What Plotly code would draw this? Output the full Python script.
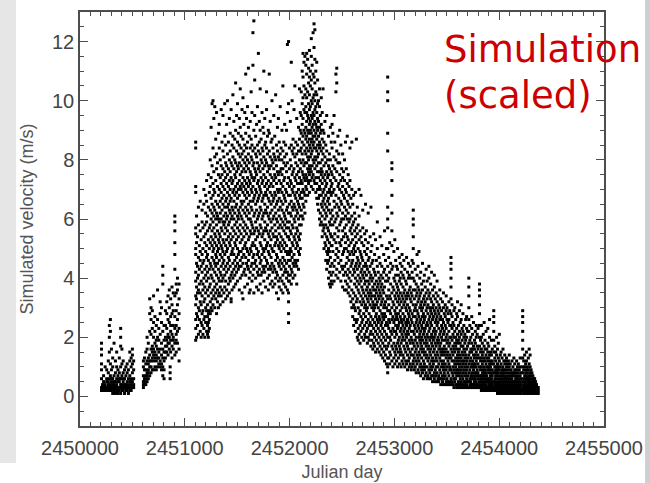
import plotly.graph_objects as go

JD0 = 2450000

early_day = [205, 215, 225, 240, 255, 270, 280, 290, 300, 312, 325, 338, 350, 362, 375, 388, 400, 412,
             425, 438, 450, 462, 475, 488, 500, 512,
             605, 615, 628, 640, 652, 665, 678, 690, 702, 715, 728, 740, 752, 765, 778, 790, 802, 815,
             828, 840, 852, 860, 865, 878, 890, 905, 918, 930, 945]
early_vel = [
    [0.2, 0.3, 0.6, 0.9, 1.1, 1.4, 1.6, 1.8], [0.2, 0.4, 0.3], [0.3, 0.5, 0.2, 0.7], [0.2, 0.4, 1.0, 0.3],
    [0.3, 0.2, 0.6, 0.5, 0.9], [0.2, 0.5, 0.8, 1.2, 0.4], [0.3, 0.6, 1.5, 2.0, 2.4, 0.2],
    [0.2, 0.4, 0.7, 1.1, 2.2, 2.6, 0.3], [0.2, 0.3, 0.5, 0.9, 1.6, 0.6], [0.1, 0.3, 0.6, 1.0, 1.3, 0.4],
    [0.2, 0.4, 0.25, 0.7, 1.8, 0.5], [0.1, 0.3, 0.5, 0.8, 1.2, 0.35], [0.2, 0.4, 0.6, 1.0, 0.15, 1.5],
    [0.1, 0.3, 0.7, 0.9, 0.5], [0.2, 0.5, 0.3, 0.8, 1.3, 0.6], [0.1, 0.3, 0.6, 1.0, 1.7, 2.0, 2.3, 0.4],
    [0.2, 0.4, 0.7, 1.1, 1.6, 0.3], [0.2, 0.3, 0.5, 0.8, 1.2, 0.6], [0.1, 0.3, 0.6, 0.9, 0.4],
    [0.2, 0.4, 0.7, 1.0, 0.3], [0.2, 0.5, 0.8, 0.3, 1.1], [0.1, 0.4, 0.6, 0.9, 0.3],
    [0.2, 0.3, 0.5, 0.7, 1.2, 1.5], [0.2, 0.4, 0.6, 1.0, 1.3, 0.5], [0.3, 0.5, 0.8, 1.1, 1.4, 1.6],
    [0.3, 0.6, 0.9, 1.2, 0.4],
    [0.3, 0.5, 0.7, 1.0, 1.2, 0.4], [0.4, 0.6, 0.9, 1.3, 0.5], [0.4, 0.7, 1.1, 1.5, 0.6, 0.9],
    [0.5, 0.8, 1.2, 1.6, 2.0, 0.7], [0.6, 0.9, 1.3, 1.8, 1.1, 0.8], [0.7, 1.0, 1.4, 2.2, 2.8, 3.3, 1.2],
    [0.8, 1.2, 1.6, 2.1, 2.6, 3.0, 1.0], [0.9, 1.3, 1.7, 2.3, 2.9, 1.5], [0.9, 1.2, 1.6, 2.0, 2.5, 1.4, 3.4],
    [1.0, 1.3, 1.8, 2.2, 2.7, 1.5], [0.9, 1.4, 1.9, 2.4, 1.2, 1.7], [1.0, 1.3, 1.6, 2.0, 2.6, 3.6],
    [1.1, 1.5, 1.9, 2.3, 1.3], [1.0, 1.2, 1.6, 2.1, 2.8, 3.2], [0.9, 1.4, 1.8, 2.5, 3.0, 1.1],
    [0.7, 1.0, 1.3, 1.6, 2.2, 3.8, 4.1, 4.4], [0.6, 0.9, 1.2, 1.5, 1.9, 2.4], [1.3, 1.7, 2.0, 2.4, 2.9, 1.5],
    [1.5, 1.9, 2.3, 2.8, 3.2, 1.7], [1.4, 1.8, 2.1, 2.6, 3.4, 2.0], [1.6, 2.0, 2.5, 3.0, 3.6, 1.8],
    [0.6, 0.8, 1.0], [1.5, 1.9, 2.2, 2.7, 3.3, 2.4], [1.3, 1.7, 2.1, 2.8, 3.1, 3.7],
    [1.6, 2.0, 2.4, 2.9, 3.5, 1.9], [1.4, 1.8, 2.3, 3.4, 4.3, 4.8, 5.2, 5.6, 5.9, 6.1, 2.7],
    [1.5, 1.9, 2.4, 2.9, 3.5, 3.8, 2.1], [1.8, 2.2, 2.6, 3.1, 3.6, 4.0], [1.2, 1.6, 2.3, 2.8, 3.3, 3.8],
]

cloud_day = [1104, 1112, 1121, 1130, 1139, 1147, 1156, 1165, 1173, 1182, 1191, 1199, 1208, 1217, 1225,
             1234, 1243, 1251, 1260, 1269, 1277, 1286, 1295, 1303, 1312, 1321, 1329, 1338, 1347, 1355,
             1364, 1373, 1381, 1390, 1399, 1407, 1416, 1425, 1433, 1442, 1451, 1459, 1468, 1477, 1485,
             1494, 1503, 1511, 1520, 1529, 1537, 1546, 1555, 1563, 1572, 1581, 1589, 1598, 1607, 1615,
             1624, 1633, 1641, 1650, 1659, 1667, 1676, 1685, 1693, 1702, 1711, 1719, 1728, 1737, 1745,
             1754, 1763, 1771, 1780, 1789, 1797, 1806, 1815, 1823, 1832, 1841, 1849, 1858, 1867, 1875,
             1884, 1893, 1901, 1910, 1919, 1927, 1936, 1945, 1953, 1962, 1971, 1979, 1990, 1998, 2007,
             2016, 2024, 2033, 2042, 2050, 2059, 2068, 2076, 2085, 2094, 2102, 2111, 2120, 2128, 2137,
             2146]
cloud_vel = [
    [1.9, 2.3, 2.6, 3.1, 3.4, 3.9, 4.2, 4.8, 5.0, 5.5, 5.7, 6.9, 7.1, 8.4, 8.6],
    [2.0, 2.8, 3.3, 3.7, 4.5, 5.2, 6.1], [2.4, 2.7, 3.5, 4.0, 4.4, 5.4],
    [2.1, 3.0, 3.6, 4.1, 4.7, 5.8, 6.4], [2.6, 2.9, 3.8, 4.3, 5.1],
    [2.2, 3.2, 3.5, 4.6, 4.9, 5.6, 6.6], [2.0, 2.5, 3.1, 3.9, 4.4, 5.3],
    [2.4, 2.8, 3.4, 4.2, 4.8, 5.9, 6.3], [2.1, 2.9, 3.6, 3.8, 4.5, 5.0, 5.7],
    [2.3, 2.6, 3.2, 4.0, 4.6, 5.4, 6.5, 7.0], [2.0, 2.7, 3.3, 3.7, 4.3, 5.2, 5.8],
    [2.5, 3.0, 3.5, 4.1, 4.9, 5.5, 6.2, 6.8], [2.2, 2.9, 3.9, 4.4, 4.7, 5.1, 5.9, 6.6, 7.3],
    [2.1, 2.4, 2.7, 3.1, 3.6, 4.2, 4.8, 5.6, 6.1], [2.0, 2.2, 2.5, 2.8, 3.4, 4.0, 4.6, 5.3, 6.4, 7.5],
    [2.3, 2.6, 2.9, 3.7, 4.3, 5.0, 5.7, 6.9], [2.8, 3.2, 3.8, 4.5, 5.2, 5.8, 6.3, 7.1, 8.0],
    [3.0, 3.5, 4.1, 4.4, 5.4, 6.0, 6.7, 7.4, 9.1], [2.9, 3.3, 4.0, 4.7, 5.1, 5.6, 6.2, 6.5, 7.8, 9.9],
    [3.1, 3.6, 4.3, 4.9, 5.3, 5.9, 6.8, 7.2, 8.4, 10.0], [3.4, 3.9, 4.6, 5.0, 5.7, 6.1, 6.4, 7.0, 7.6, 9.4],
    [3.0, 3.7, 4.2, 4.5, 5.2, 5.5, 6.3, 6.9, 8.1, 9.8], [3.3, 3.5, 4.4, 4.8, 5.4, 6.0, 6.6, 7.3, 8.7],
    [2.8, 3.8, 4.1, 4.7, 5.1, 5.8, 6.2, 7.7, 8.2, 9.6], [3.2, 3.6, 4.5, 4.9, 5.6, 6.1, 6.5, 7.1, 7.9],
    [3.0, 3.4, 4.0, 4.3, 5.0, 5.3, 6.0, 6.8, 7.5, 8.9], [3.5, 3.9, 4.6, 5.2, 5.5, 5.9, 6.4, 7.0, 8.4, 9.2],
    [3.1, 3.7, 4.2, 4.8, 5.4, 6.2, 6.6, 7.4, 8.0], [3.4, 4.1, 4.4, 5.1, 5.7, 6.0, 6.9, 7.2, 7.8, 9.7],
    [3.6, 3.9, 4.7, 5.0, 5.6, 6.3, 6.7, 7.5, 8.6], [3.2, 4.0, 4.5, 4.9, 5.3, 5.9, 6.5, 7.1, 7.7, 8.3, 9.5],
    [3.5, 4.3, 4.6, 5.2, 5.8, 6.1, 6.8, 7.3, 8.1], [3.7, 4.1, 4.8, 5.5, 5.9, 6.4, 7.0, 7.6, 8.8, 9.9],
    [3.3, 3.9, 4.4, 5.1, 5.7, 6.2, 6.6, 7.4, 7.9, 8.5], [3.6, 4.2, 4.9, 5.3, 6.0, 6.7, 7.2, 7.8, 9.2],
    [3.4, 4.5, 5.0, 5.6, 6.1, 6.4, 6.9, 7.5, 8.2, 10.0], [3.8, 4.3, 4.7, 5.4, 5.8, 6.5, 7.1, 7.7, 8.6],
    [3.5, 4.0, 4.6, 5.2, 5.9, 6.3, 6.8, 7.3, 8.0, 9.4], [3.9, 4.4, 5.1, 5.5, 6.2, 6.6, 7.0, 7.6, 8.3, 8.9],
    [3.2, 3.3, 4.1, 4.8, 5.3, 6.0, 6.7, 7.4, 7.9, 9.7], [3.6, 4.2, 4.9, 5.7, 6.1, 6.4, 7.2, 7.8, 8.5],
    [4.0, 4.5, 5.0, 5.4, 6.3, 6.9, 7.3, 8.1, 8.8, 10.2], [3.7, 4.3, 4.8, 5.6, 6.0, 6.6, 7.0, 7.7, 8.4, 9.3],
    [4.1, 4.6, 5.2, 5.8, 6.2, 6.8, 7.5, 8.0, 8.7], [3.8, 4.4, 5.1, 5.5, 6.4, 7.1, 7.4, 7.9, 9.0, 10.6],
    [4.2, 4.7, 5.3, 5.9, 6.5, 6.9, 7.6, 8.3, 9.5], [3.9, 4.5, 5.0, 5.7, 6.1, 6.7, 7.2, 7.8, 8.6, 9.9],
    [4.3, 4.8, 5.4, 6.0, 6.3, 7.0, 7.7, 8.2, 8.9], [3.6, 4.4, 4.9, 5.6, 6.2, 6.8, 7.3, 7.9, 8.5, 9.4],
    [4.0, 4.6, 5.2, 5.8, 6.4, 7.1, 7.5, 8.1, 9.1, 10.4], [4.4, 4.9, 5.5, 6.1, 6.6, 7.0, 7.8, 8.4, 8.8],
    [3.5, 4.1, 4.7, 5.3, 6.0, 6.5, 7.2, 7.6, 8.2, 9.7], [3.3, 4.5, 5.0, 5.7, 6.3, 6.9, 7.4, 8.0, 8.7, 10.1],
    [4.2, 4.8, 5.4, 5.9, 6.6, 7.1, 7.7, 8.3, 9.2], [3.7, 4.3, 5.1, 5.6, 6.2, 6.8, 7.3, 7.9, 8.5, 9.6],
    [4.1, 4.7, 5.2, 5.8, 6.4, 7.0, 7.6, 8.1, 8.9, 10.9], [4.5, 5.0, 5.5, 6.1, 6.7, 7.2, 7.8, 8.4, 9.4],
    [3.8, 4.4, 4.9, 5.7, 6.3, 6.9, 7.4, 8.0, 8.6, 9.8], [4.3, 4.6, 5.3, 6.0, 6.5, 7.1, 7.7, 8.2, 9.1, 11.1],
    [3.5, 4.0, 4.8, 5.4, 6.2, 6.8, 7.3, 7.9, 8.8], [3.6, 4.2, 5.0, 5.6, 6.0, 6.6, 7.2, 7.6, 8.4, 9.3],
    [4.4, 4.9, 5.5, 5.9, 6.4, 7.0, 7.5, 8.1, 8.7, 10.3], [3.9, 4.5, 5.1, 5.8, 6.3, 6.9, 7.4, 8.0, 8.5, 9.6],
    [4.1, 4.7, 5.2, 5.7, 6.6, 7.1, 7.8, 8.3, 11.2, 12.3], [3.5, 4.3, 4.8, 5.5, 6.1, 6.7, 7.3, 7.9, 9.0, 12.7],
    [4.5, 5.1, 5.6, 6.2, 6.8, 7.4, 7.7, 8.4, 9.5, 10.7], [4.0, 4.6, 5.3, 5.9, 6.5, 7.0, 7.6, 8.2, 8.8],
    [3.7, 4.4, 5.0, 5.7, 6.3, 6.9, 7.5, 8.1, 9.2], [4.2, 4.8, 5.4, 6.0, 6.6, 7.2, 7.9, 8.5, 9.8],
    [3.6, 4.1, 4.9, 5.6, 6.1, 6.7, 7.3, 7.7, 8.3, 11.6], [4.3, 4.7, 5.5, 6.2, 6.8, 7.1, 7.8, 8.6, 9.3],
    [3.8, 4.5, 5.2, 5.8, 6.4, 7.0, 7.6, 8.2, 9.0, 10.4], [4.1, 4.6, 5.1, 5.7, 6.3, 6.9, 7.4, 8.0, 8.7],
    [3.5, 4.2, 4.8, 5.4, 6.0, 6.6, 7.2, 7.9, 8.4, 9.6], [4.4, 5.0, 5.5, 6.1, 6.7, 7.3, 7.7, 8.3, 9.1],
    [3.9, 4.3, 4.9, 5.6, 6.2, 6.8, 7.5, 8.1, 8.9, 11.0], [4.2, 4.7, 5.3, 5.9, 6.5, 7.1, 7.8, 8.5, 9.4],
    [3.7, 4.4, 5.0, 5.7, 6.3, 6.9, 7.4, 8.0, 8.6], [4.6, 5.1, 5.6, 6.2, 6.8, 7.2, 7.9, 8.4, 9.7, 10.3],
    [4.0, 4.5, 5.2, 5.8, 6.4, 7.0, 7.6, 8.2, 8.8], [3.6, 4.3, 4.9, 5.5, 6.1, 6.7, 7.3, 7.8, 9.0],
    [4.1, 4.8, 5.4, 6.0, 6.6, 7.1, 7.7, 8.3, 8.9, 10.9], [3.8, 4.4, 5.1, 5.6, 6.2, 6.9, 7.5, 8.1, 9.3],
    [4.3, 4.7, 5.3, 5.9, 6.5, 7.2, 7.8, 8.6], [3.9, 4.5, 5.0, 5.7, 6.3, 6.8, 7.4, 8.0, 8.7, 10.0],
    [3.7, 4.2, 4.9, 5.5, 6.0, 6.6, 7.1, 7.9, 8.4], [4.4, 4.9, 5.4, 6.1, 6.7, 7.3, 7.7, 8.2, 9.5],
    [3.8, 4.3, 5.1, 5.8, 6.4, 6.9, 7.5, 8.1, 8.8], [4.0, 4.6, 5.2, 5.6, 6.2, 6.8, 7.4, 8.0, 10.2],
    [3.5, 4.2, 4.8, 5.4, 6.0, 6.5, 7.2, 7.8, 8.5], [4.1, 4.7, 5.3, 5.9, 6.6, 7.0, 7.6, 8.3, 9.1],
    [3.3, 3.9, 4.5, 5.1, 5.7, 6.3, 6.9, 7.5, 8.1, 9.4], [3.7, 4.4, 5.0, 5.5, 6.1, 6.7, 7.3, 8.0, 8.6],
    [4.0, 4.6, 5.2, 5.8, 6.4, 7.0, 7.6, 8.2, 9.8], [3.6, 4.3, 4.9, 5.4, 6.0, 6.6, 7.2, 7.7, 8.4],
    [3.9, 4.5, 5.1, 5.7, 6.3, 6.9, 7.5, 8.0, 9.0], [3.5, 4.1, 4.7, 5.3, 5.9, 6.5, 7.1, 7.7, 8.3, 10.5],
    [3.8, 4.4, 5.0, 5.6, 6.2, 6.8, 7.3, 7.9, 8.6], [4.2, 4.6, 5.2, 5.8, 6.1, 6.7, 7.4, 8.1, 9.2],
    [3.7, 4.3, 4.9, 5.5, 6.0, 6.6, 7.0, 7.8, 8.5], [4.0, 4.5, 5.1, 5.7, 6.3, 6.9, 7.6, 8.2, 9.0],
    [3.6, 4.2, 4.8, 5.4, 5.9, 6.4, 7.2, 7.9, 9.6, 11.9],
    [2.5, 2.8, 3.2, 3.5, 3.9, 4.1, 4.6, 4.9, 5.4, 5.7, 6.2, 6.8, 7.4, 9.9, 12.0],
    [3.9, 4.4, 4.8, 5.3, 5.9, 6.5, 7.1, 7.7, 8.4], [4.1, 4.6, 5.0, 5.6, 6.2, 6.8, 7.3, 8.0, 9.3],
    [3.8, 4.3, 4.9, 5.5, 6.1, 6.6, 7.2, 7.8, 8.5, 11.3], [4.2, 4.7, 5.2, 5.8, 6.4, 7.0, 7.5, 8.3, 10.0],
    [4.0, 4.5, 5.1, 5.7, 6.3, 6.9, 7.6, 8.2, 8.7], [4.4, 4.8, 5.4, 6.0, 6.5, 7.1, 7.7, 8.4, 9.7],
    [4.1, 4.6, 5.3, 5.9, 6.4, 6.8, 7.4, 8.1, 10.5], [4.5, 5.0, 5.5, 6.1, 6.7, 7.3, 7.9, 8.6],
    [3.8, 4.4, 5.2, 5.7, 6.3, 6.9, 7.5, 8.2, 9.4], [4.6, 5.1, 5.6, 6.2, 6.6, 7.2, 7.8, 8.5],
    [4.3, 4.9, 5.4, 6.0, 6.5, 7.0, 7.6, 8.3, 9.1], [4.8, 5.3, 5.8, 6.4, 6.8, 7.4, 8.0, 8.7, 10.4],
    [5.0, 5.5, 6.1, 6.7, 7.2, 7.7, 8.3, 9.0, 9.6], [5.8, 6.3, 6.9, 7.3, 7.9, 8.4, 8.9, 9.5, 10.3],
    [6.1, 6.7, 7.2, 7.6, 8.2, 8.6, 9.2, 9.9, 11.0], [6.0, 6.5, 7.0, 7.5, 8.0, 8.8, 9.4, 10.1, 10.8, 11.6],
    [6.4, 6.9, 7.4, 7.8, 8.5, 9.0, 9.7, 10.5, 11.3], [6.2, 6.8, 7.3, 7.9, 8.3, 8.9, 9.6, 10.2, 11.5],
]

peak_day = [2155, 2163, 2172, 2181, 2189, 2198, 2207, 2215, 2224, 2233, 2241, 2250, 2259, 2267, 2276,
            2285, 2293, 2302, 2311, 2319, 2328, 2337, 2345, 2354, 2363, 2371, 2380, 2389, 2397]
peak_vel = [
    [6.6, 7.1, 7.5, 8.2, 8.7, 9.1, 9.8, 10.4, 11.2], [7.0, 7.4, 7.9, 8.4, 8.8, 9.3, 9.6, 10.1, 10.9, 11.6],
    [6.8, 7.3, 7.7, 8.1, 8.6, 9.0, 9.5, 10.3, 11.4], [7.2, 7.6, 8.0, 8.3, 8.9, 9.4, 9.9, 10.6, 11.1],
    [6.9, 7.5, 7.8, 8.5, 8.7, 9.2, 9.7, 10.2, 10.8, 11.7], [7.3, 7.7, 8.1, 8.4, 9.0, 9.3, 9.8, 10.5, 11.0],
    [7.1, 7.6, 8.2, 8.6, 8.9, 9.5, 10.0, 10.7, 11.5, 12.1], [7.4, 7.8, 8.3, 8.7, 9.1, 9.4, 9.9, 10.4, 11.2],
    [7.0, 7.5, 8.0, 8.5, 8.8, 9.2, 9.6, 10.1, 10.9, 12.3], [7.3, 7.9, 8.4, 8.6, 9.0, 9.5, 10.2, 10.8, 11.8, 12.6],
    [7.2, 7.7, 8.1, 8.8, 9.3, 9.7, 10.0, 10.6, 11.4, 12.4], [6.9, 7.4, 8.0, 8.4, 8.9, 9.2, 9.8, 10.3, 11.0],
    [6.7, 7.2, 7.8, 8.3, 8.7, 9.1, 9.6, 10.2, 11.3], [6.5, 7.0, 7.6, 8.1, 8.5, 9.0, 9.4, 9.9, 10.7],
    [6.3, 6.7, 7.4, 7.9, 8.2, 8.8, 9.3, 10.0], [6.0, 6.8, 7.1, 7.6, 8.4, 8.6, 9.1, 9.8, 10.4],
    [5.8, 6.2, 7.0, 7.3, 7.9, 8.5, 8.9, 9.5], [5.9, 6.5, 6.8, 7.5, 7.7, 8.3, 9.0, 9.2, 10.1],
    [5.4, 6.1, 6.4, 7.2, 7.6, 8.0, 8.7, 9.6], [5.6, 5.8, 6.6, 6.9, 7.4, 8.2, 8.4, 9.0, 10.4],
    [5.0, 5.7, 6.3, 6.7, 7.0, 7.8, 8.6, 8.9], [5.2, 5.5, 6.0, 6.5, 7.3, 7.5, 8.1, 9.3],
    [4.6, 5.1, 5.8, 6.2, 6.8, 7.1, 7.9, 8.5], [4.3, 4.9, 5.4, 6.1, 6.4, 7.2, 7.6, 8.3, 9.5],
    [4.5, 4.8, 5.3, 5.7, 6.6, 6.9, 7.4, 8.0], [4.0, 4.6, 5.0, 5.6, 6.3, 6.7, 7.5, 7.8, 8.8],
    [3.8, 4.2, 4.9, 5.2, 5.9, 6.5, 7.0, 7.7, 8.2], [3.7, 4.4, 4.7, 5.5, 5.8, 6.2, 6.9, 7.3, 8.0, 9.1],
    [3.9, 4.1, 5.1, 5.4, 6.0, 6.8, 7.1, 7.6, 8.6],
]

decline_day = [2405, 2413, 2424, 2431, 2442, 2450, 2461, 2469, 2478, 2489, 2497, 2506, 2515, 2524, 2533,
               2541, 2550, 2559, 2567, 2576, 2585, 2594, 2602, 2611, 2620, 2628, 2637, 2646, 2654, 2663,
               2672, 2681, 2689, 2698, 2707, 2716, 2724, 2733, 2742, 2750, 2759, 2768, 2776, 2785, 2794,
               2802, 2811, 2820, 2828, 2837, 2846, 2854, 2863, 2872, 2880, 2889, 2898, 2906, 2915, 2924,
               2936, 2946, 2955, 2964, 2976, 2986, 2995, 3004, 3012, 3021, 3030, 3038, 3047, 3056, 3064,
               3073, 3082, 3090, 3099, 3108, 3116, 3125, 3134, 3142, 3151, 3160, 3169, 3180, 3190, 3199,
               3208, 3216, 3225, 3234, 3242, 3251, 3260, 3268, 3277, 3286, 3294, 3303, 3312, 3320, 3329,
               3338, 3346, 3355, 3364, 3372, 3381, 3390, 3398, 3407, 3416, 3424, 3433, 3442, 3450, 3459,
               3468, 3476, 3485, 3494, 3502, 3511, 3520, 3528, 3540, 3550, 3559, 3568, 3576, 3585, 3594,
               3602, 3611, 3620, 3628, 3637, 3646, 3654, 3663, 3672, 3680, 3689, 3698, 3710, 3720, 3729,
               3738, 3746, 3755, 3764, 3772, 3781, 3790, 3798, 3812, 3822, 3830, 3839, 3848, 3856, 3865,
               3874, 3882, 3891, 3900, 3908, 3917, 3926, 3934, 3948, 3958, 3966, 3975, 3984, 3992, 4001,
               4010, 4018, 4027, 4036, 4044, 4053, 4062, 4070, 4079, 4088, 4096, 4105, 4114, 4122, 4131,
               4140, 4148, 4157, 4166, 4174, 4183, 4192, 4200, 4210, 4224, 4234, 4243, 4252, 4260, 4269,
               4278, 4286, 4295, 4304, 4312, 4321, 4330, 4338, 4347, 4356, 4364, 4373]
decline_vel = [
    [3.8, 4.5, 5.1, 5.4, 6.3, 7.2, 7.5, 8.4, 9.2], [4.2, 4.9, 5.8, 6.1, 6.9, 7.8, 8.9],
    [3.9, 4.4, 5.3, 6.6, 7.0, 7.4, 8.1, 9.5], [4.6, 5.5, 5.9, 6.4, 7.7, 8.6],
    [4.1, 4.8, 5.2, 6.0, 6.8, 7.3, 8.0, 10.3, 10.9], [4.3, 5.0, 5.7, 6.2, 6.5, 7.6, 8.3, 10.6, 11.1],
    [4.0, 4.7, 5.4, 6.1, 7.1, 7.9, 8.8], [4.5, 4.9, 5.6, 6.4, 6.7, 7.2, 8.2],
    [4.2, 5.2, 5.8, 6.3, 7.0, 7.5, 7.9, 9.0], [3.9, 4.6, 5.1, 5.9, 6.6, 7.3, 8.5],
    [4.4, 5.3, 6.0, 6.5, 6.9, 7.7], [3.7, 4.3, 4.8, 5.6, 6.2, 7.1, 7.4, 8.2],
    [4.1, 4.9, 5.4, 6.0, 6.8, 7.6], [3.6, 4.4, 5.0, 5.7, 6.4, 6.7, 7.3, 8.0],
    [3.9, 4.2, 5.2, 5.5, 6.1, 7.0, 8.6], [3.6, 4.5, 5.0, 5.8, 6.3, 6.9, 7.7],
    [3.8, 4.1, 4.7, 5.4, 6.0, 6.6, 7.2, 8.8], [3.5, 4.3, 4.9, 5.3, 6.2, 6.5, 7.5],
    [3.7, 4.0, 4.6, 5.1, 5.9, 6.8, 7.1], [3.4, 4.2, 4.8, 5.6, 6.0, 6.4, 7.3, 8.4],
    [3.2, 3.9, 4.4, 5.2, 5.7, 6.7], [3.0, 3.6, 4.5, 4.9, 5.5, 6.1, 7.0, 8.6],
    [2.7, 3.3, 4.1, 4.6, 5.3, 5.8, 6.5], [2.4, 3.1, 3.5, 4.3, 4.8, 5.0, 5.9, 6.8],
    [2.6, 3.0, 3.8, 4.2, 5.1, 5.6, 6.2], [2.2, 2.9, 3.4, 4.0, 4.4, 4.9, 5.4, 6.0, 6.9],
    [2.5, 3.2, 3.7, 4.5, 5.2, 5.7, 8.7], [2.0, 2.6, 3.3, 3.9, 4.3, 4.7, 5.5, 6.4],
    [1.9, 2.3, 3.0, 3.6, 4.1, 4.6, 5.0, 5.8], [2.1, 2.8, 3.5, 3.8, 4.4, 5.3, 6.1, 7.0],
    [1.8, 2.4, 2.9, 3.2, 4.0, 4.5, 4.9, 5.6], [2.2, 2.7, 3.4, 3.9, 4.2, 4.8, 5.4, 6.8],
    [2.0, 2.5, 3.1, 3.7, 4.3, 4.7, 5.2], [2.3, 2.6, 3.3, 3.6, 4.1, 4.6, 5.7, 6.3],
    [1.9, 2.8, 3.2, 3.5, 4.0, 4.4, 5.1], [2.1, 2.4, 3.0, 3.8, 4.2, 4.9, 5.5],
    [2.0, 2.7, 3.1, 3.4, 3.9, 4.5, 5.3, 6.5], [2.2, 2.5, 2.9, 3.6, 4.1, 4.4, 4.8, 5.6],
    [1.8, 2.3, 3.0, 3.3, 3.7, 4.3, 5.0], [2.0, 2.6, 3.2, 3.5, 3.9, 4.6, 5.2, 6.2],
    [1.9, 2.4, 2.8, 3.4, 3.8, 4.2, 4.7], [2.1, 2.5, 3.1, 3.6, 4.0, 4.4, 5.4],
    [1.7, 2.2, 2.7, 3.3, 3.5, 4.1, 4.9, 6.4], [1.9, 2.4, 3.0, 3.4, 3.9, 4.5, 5.1],
    [1.6, 2.1, 2.6, 3.2, 3.7, 4.0, 4.6], [1.8, 2.3, 2.9, 3.1, 3.6, 4.3, 5.5],
    [1.7, 2.0, 2.5, 3.0, 3.4, 3.8, 4.2, 4.8], [1.5, 2.2, 2.7, 3.3, 3.6, 4.1, 5.3],
    [1.9, 2.4, 2.8, 3.1, 3.5, 3.9, 4.6], [1.6, 2.1, 2.6, 3.2, 3.7, 4.4, 5.0, 5.9],
    [1.8, 2.3, 2.5, 3.0, 3.4, 3.8, 4.2], [1.5, 2.0, 2.7, 3.3, 3.6, 4.0, 4.7],
    [1.7, 2.2, 2.6, 2.9, 3.5, 3.9, 4.5, 5.4], [1.4, 1.9, 2.4, 3.1, 3.4, 3.7, 4.1],
    [1.6, 2.1, 2.5, 2.8, 3.2, 3.8, 4.4, 5.1], [1.3, 1.8, 2.3, 2.7, 3.3, 3.6, 4.0],
    [1.5, 2.0, 2.6, 3.0, 3.5, 4.2, 4.8], [1.2, 1.7, 2.2, 2.8, 3.1, 3.7, 4.3, 5.6],
    [1.4, 1.9, 2.4, 2.7, 3.2, 3.9, 4.6], [1.1, 1.6, 2.1, 2.5, 3.0, 3.4, 4.1, 5.0],
    [0.8, 1.0, 1.3, 1.7, 2.0, 2.4, 2.9, 3.3, 3.9, 4.4, 5.0, 5.7, 6.0, 6.4, 8.3, 8.9, 10.0, 10.3, 10.8],
    [1.3, 1.8, 2.3, 2.6, 3.1, 3.6, 4.0, 4.7], [1.1, 1.5, 2.0, 2.5, 2.9, 3.4, 4.2, 5.2],
    [1.4, 1.9, 2.2, 2.8, 3.3, 3.8, 4.5],
    [1.2, 1.7, 2.1, 2.6, 3.0, 3.5, 4.3, 5.1, 5.6, 6.2, 6.8, 7.3, 7.7, 7.9],
    [1.0, 1.6, 2.3, 2.7, 3.2, 3.7, 4.4], [1.3, 1.8, 2.2, 2.5, 3.1, 3.6, 4.0, 4.9],
    [1.1, 1.5, 2.0, 2.6, 2.9, 3.4, 3.9, 5.3], [1.4, 1.7, 2.2, 2.4, 2.8, 3.3, 4.1, 4.6],
    [1.2, 1.6, 2.1, 2.7, 3.0, 3.5, 3.8, 4.4], [1.0, 1.8, 2.3, 2.6, 3.2, 3.7, 4.3, 5.0],
    [1.3, 1.5, 1.9, 2.4, 2.8, 3.4, 3.6, 4.1], [1.1, 1.7, 2.0, 2.5, 3.1, 3.3, 3.9, 4.7],
    [1.4, 1.6, 2.2, 2.7, 2.9, 3.5, 4.0, 4.5], [1.0, 1.5, 1.8, 2.3, 2.6, 3.2, 3.8, 4.2],
    [1.2, 1.9, 2.1, 2.5, 3.0, 3.4, 4.4, 4.8], [1.1, 1.4, 2.0, 2.4, 2.8, 3.3, 3.7, 4.1],
    [1.3, 1.7, 2.2, 2.6, 3.1, 3.5, 4.0, 4.6], [1.0, 1.6, 1.9, 2.3, 2.7, 3.2, 3.6, 4.3],
    [1.2, 1.5, 2.1, 2.5, 3.0, 3.4, 3.9], [1.1, 1.8, 2.0, 2.4, 2.9, 3.3, 3.8, 4.7],
    [0.9, 1.4, 1.7, 2.2, 2.6, 3.1, 3.5, 4.2], [1.2, 1.6, 2.1, 2.5, 2.8, 3.4, 4.0, 4.5],
    [1.0, 1.3, 1.9, 2.3, 2.7, 3.0, 3.6, 4.1], [1.1, 1.5, 1.8, 2.4, 2.9, 3.3, 3.7, 4.4],
    [0.9, 1.4, 2.0, 2.2, 2.6, 3.2, 3.5, 4.0], [1.0, 1.6, 1.9, 2.5, 2.8, 3.4, 4.2, 4.6],
    [1.1, 1.2, 1.4, 1.8, 2.2, 2.7, 3.1, 3.6, 4.0, 4.5, 5.0, 5.4, 5.8, 6.0, 6.3],
    [0.9, 1.3, 1.7, 2.1, 2.4, 2.9, 3.3, 3.9], [1.0, 1.5, 1.9, 2.3, 2.7, 3.0, 3.6, 4.3],
    [0.8, 1.2, 1.6, 2.0, 2.5, 3.1, 3.4, 3.8], [1.1, 1.4, 1.8, 2.2, 2.6, 2.9, 3.5, 4.1, 4.8],
    [0.9, 1.3, 1.7, 2.4, 2.8, 3.2, 3.7, 4.4], [0.8, 1.2, 1.5, 2.0, 2.3, 2.7, 3.3, 3.6, 4.9],
    [1.0, 1.4, 1.9, 2.1, 2.5, 3.0, 3.4, 4.0], [0.7, 1.1, 1.6, 1.8, 2.2, 2.6, 3.1, 3.5, 4.2],
    [0.9, 1.3, 1.7, 2.0, 2.4, 2.9, 3.2, 3.8], [0.8, 1.0, 1.5, 1.9, 2.3, 2.7, 3.0, 3.6, 4.5],
    [0.6, 1.2, 1.6, 2.1, 2.5, 2.8, 3.3, 3.9], [0.9, 1.1, 1.4, 1.8, 2.2, 2.6, 3.1, 3.4, 4.1],
    [0.7, 1.0, 1.5, 2.0, 2.3, 2.7, 3.2, 3.7], [0.8, 1.3, 1.7, 1.9, 2.4, 2.9, 3.5, 4.3],
    [0.6, 1.0, 1.4, 1.8, 2.1, 2.5, 3.0, 3.3, 3.9], [0.7, 1.2, 1.6, 2.0, 2.4, 2.8, 3.1, 3.6],
    [0.6, 0.9, 1.3, 1.7, 2.2, 2.6, 3.4, 4.0, 4.4], [0.8, 1.1, 1.5, 1.9, 2.3, 2.7, 3.0, 3.5],
    [0.6, 1.0, 1.4, 1.6, 2.0, 2.5, 2.9, 3.3, 3.8], [0.7, 0.9, 1.2, 1.8, 2.1, 2.4, 2.8, 3.2, 4.2],
    [0.5, 1.0, 1.3, 1.7, 2.0, 2.6, 3.0, 3.6], [0.7, 1.1, 1.5, 1.9, 2.2, 2.7, 3.1, 3.4],
    [0.6, 0.8, 1.2, 1.6, 2.0, 2.3, 2.9, 3.7, 4.1], [0.5, 0.9, 1.4, 1.8, 2.1, 2.5, 2.8, 3.3],
    [0.7, 1.0, 1.3, 1.7, 2.2, 2.6, 3.0, 3.5], [0.5, 0.8, 1.2, 1.5, 1.9, 2.4, 2.7, 3.2, 3.9],
    [0.6, 1.0, 1.4, 1.8, 2.0, 2.5, 2.9, 3.4], [0.5, 0.7, 1.1, 1.6, 1.9, 2.3, 2.8, 3.1],
    [0.6, 0.9, 1.3, 1.7, 2.1, 2.6, 3.0, 3.6], [0.4, 0.8, 1.2, 1.5, 1.8, 2.2, 2.7, 3.3],
    [0.6, 1.0, 1.4, 1.6, 2.0, 2.4, 2.9], [0.5, 0.7, 1.1, 1.5, 1.9, 2.3, 2.6, 3.2],
    [0.4, 0.9, 1.2, 1.6, 2.1, 2.5, 3.0, 3.5], [0.6, 0.8, 1.0, 1.4, 1.7, 2.2, 2.8],
    [0.4, 0.7, 1.1, 1.5, 1.9, 2.4, 2.7, 3.1], [0.5, 0.9, 1.3, 1.6, 2.0, 2.3, 2.9, 3.4],
    [0.4, 0.6, 1.0, 1.4, 1.8, 2.1, 2.6, 3.0], [0.5, 0.8, 1.2, 1.5, 1.9, 2.5, 2.8],
    [0.4, 0.7, 1.1, 1.3, 1.7, 2.2, 2.6, 3.2], [0.5, 0.9, 1.0, 1.4, 1.8, 2.0, 2.4, 2.9],
    [0.4, 0.6, 0.9, 1.3, 1.6, 2.0, 2.4, 2.8, 3.3, 3.7, 4.0, 4.3, 4.5, 4.7],
    [0.5, 0.8, 1.2, 1.5, 1.9, 2.3, 2.7, 3.1], [0.4, 0.7, 1.0, 1.4, 1.7, 2.1, 2.5],
    [0.3, 0.6, 0.9, 1.2, 1.6, 2.0, 2.4, 2.9], [0.5, 0.8, 1.1, 1.5, 1.8, 2.2, 3.0],
    [0.4, 0.6, 1.0, 1.3, 1.7, 2.0, 2.6], [0.3, 0.7, 0.9, 1.2, 1.6, 1.9, 2.3, 2.8],
    [0.4, 0.8, 1.1, 1.4, 1.8, 2.1, 2.7, 3.2], [0.3, 0.5, 0.9, 1.3, 1.5, 1.9, 2.4],
    [0.4, 0.7, 1.0, 1.2, 1.6, 2.0, 2.2, 2.9], [0.3, 0.6, 0.8, 1.1, 1.4, 1.8, 2.5],
    [0.4, 0.5, 0.9, 1.3, 1.7, 2.1, 2.6, 3.1], [0.3, 0.7, 1.0, 1.2, 1.5, 1.9, 2.3],
    [0.4, 0.6, 0.8, 1.1, 1.4, 1.7, 2.2, 2.8], [0.3, 0.5, 0.9, 1.2, 1.6, 2.0, 2.4],
    [0.4, 0.7, 1.0, 1.3, 1.5, 1.8, 2.1], [0.3, 0.5, 0.8, 1.1, 1.4, 1.9, 2.6],
    [0.4, 0.6, 0.9, 1.2, 1.6, 2.0, 2.3, 2.7], [0.3, 0.5, 0.7, 1.0, 1.3, 1.7, 2.2],
    [0.3, 0.5, 0.8, 1.1, 1.4, 1.8, 2.2, 2.6, 3.0, 3.4, 3.7, 4.0],
    [0.4, 0.6, 0.9, 1.2, 1.5, 1.9, 2.4], [0.3, 0.5, 0.7, 1.0, 1.3, 1.6, 2.0],
    [0.4, 0.6, 0.8, 1.1, 1.5, 1.8, 2.3, 2.7], [0.3, 0.4, 0.7, 1.0, 1.2, 1.6, 2.1],
    [0.4, 0.6, 0.9, 1.1, 1.4, 1.7, 2.5], [0.3, 0.5, 0.8, 1.0, 1.3, 1.6, 1.9],
    [0.4, 0.6, 0.7, 1.1, 1.4, 1.8, 2.2], [0.3, 0.5, 0.8, 1.0, 1.2, 1.5, 2.0, 2.4],
    [0.3, 0.4, 0.7, 0.9, 1.3, 1.7, 2.1], [0.4, 0.6, 0.8, 1.1, 1.4, 1.6, 2.3],
    [0.3, 0.5, 0.7, 1.0, 1.3, 1.7, 2.0, 2.4, 2.8, 3.1, 3.4, 3.6, 3.8],
    [0.3, 0.4, 0.6, 0.9, 1.2, 1.5, 1.9], [0.2, 0.5, 0.7, 1.0, 1.3, 1.6, 2.0, 2.4],
    [0.3, 0.4, 0.6, 0.8, 1.1, 1.4, 1.8], [0.2, 0.5, 0.7, 0.9, 1.2, 1.5, 2.1],
    [0.3, 0.4, 0.6, 0.8, 1.0, 1.3, 1.7, 2.5], [0.2, 0.5, 0.7, 0.9, 1.2, 1.6, 1.9],
    [0.3, 0.4, 0.6, 0.8, 1.1, 1.4, 2.2], [0.2, 0.3, 0.5, 0.7, 1.0, 1.3, 1.6],
    [0.3, 0.5, 0.6, 0.9, 1.2, 1.5, 1.8, 2.3], [0.2, 0.4, 0.5, 0.8, 1.0, 1.3, 1.7],
    [0.3, 0.4, 0.6, 0.9, 1.1, 1.4, 2.0, 2.6], [0.2, 0.3, 0.5, 0.7, 1.0, 1.2, 1.5],
    [0.2, 0.4, 0.6, 0.8, 1.1, 1.4, 1.9], [0.3, 0.4, 0.5, 0.7, 0.9, 1.2, 1.6],
    [0.2, 0.3, 0.5, 0.8, 1.1, 1.5, 1.9, 2.2, 2.5, 2.7, 2.9],
    [0.2, 0.4, 0.6, 0.8, 1.0, 1.3, 1.7], [0.3, 0.4, 0.5, 0.7, 0.9, 1.2, 1.5],
    [0.2, 0.3, 0.6, 0.8, 1.0, 1.4, 2.0], [0.1, 0.3, 0.4, 0.7, 0.9, 1.1, 1.6],
    [0.2, 0.4, 0.5, 0.8, 1.0, 1.3, 1.8], [0.1, 0.3, 0.4, 0.6, 0.9, 1.2, 2.1],
    [0.2, 0.3, 0.5, 0.7, 1.0, 1.4], [0.1, 0.3, 0.4, 0.6, 0.8, 1.1, 1.5],
    [0.2, 0.3, 0.5, 0.7, 0.9, 1.3], [0.1, 0.2, 0.4, 0.6, 0.8, 1.0, 1.6],
    [0.2, 0.3, 0.5, 0.7, 0.9, 1.2], [0.1, 0.3, 0.4, 0.6, 0.8, 1.1, 1.4],
    [0.2, 0.3, 0.5, 0.6, 0.9, 1.2], [0.1, 0.2, 0.4, 0.6, 0.7, 1.0, 1.3],
    [0.2, 0.3, 0.5, 0.8, 1.1], [0.1, 0.3, 0.4, 0.6, 0.9, 1.2],
    [0.2, 0.3, 0.5, 0.7, 1.0, 1.4], [0.1, 0.2, 0.4, 0.6, 0.8, 1.1],
    [0.2, 0.3, 0.5, 0.7, 0.9], [0.1, 0.3, 0.4, 0.6, 0.8, 1.2],
    [0.2, 0.3, 0.5, 0.7, 1.0], [0.1, 0.2, 0.4, 0.5, 0.8, 1.3],
    [0.2, 0.3, 0.5, 0.7, 0.9, 1.1], [0.1, 0.3, 0.4, 0.6, 0.8],
    [0.2, 0.3, 0.5, 0.6, 0.9, 1.2], [0.1, 0.2, 0.4, 0.6, 0.7, 1.0],
    [0.2, 0.3, 0.5, 0.8, 1.1], [0.1, 0.3, 0.4, 0.6, 0.9],
    [0.2, 0.3, 0.5, 0.7, 1.0, 1.3], [0.1, 0.2, 0.4, 0.6, 0.8],
    [0.2, 0.3, 0.5, 0.8, 1.0, 1.3, 1.6, 1.9, 2.2, 2.5, 2.7, 2.9],
    [0.1, 0.3, 0.4, 0.6, 0.9, 1.2], [0.2, 0.3, 0.5, 0.7, 1.0, 1.4],
    [0.1, 0.2, 0.4, 0.6, 0.8, 1.1], [0.2, 0.3, 0.5, 0.7, 0.9, 1.2, 1.5],
    [0.1, 0.3, 0.4, 0.6, 0.8, 1.0], [0.2, 0.3, 0.5, 0.6, 0.9, 1.3],
    [0.1, 0.2, 0.4, 0.5, 0.7, 1.1, 1.6], [0.2, 0.3, 0.4, 0.6, 0.8, 1.0, 1.4],
    [0.1, 0.2, 0.4, 0.5, 0.7, 0.9], [0.2, 0.3, 0.4, 0.6, 0.8],
    [0.1, 0.2, 0.3, 0.5, 0.7], [0.2, 0.3, 0.4, 0.5, 0.6],
    [0.1, 0.2, 0.3, 0.4, 0.6], [0.1, 0.2, 0.3, 0.5],
    [0.1, 0.2, 0.3, 0.4], [0.1, 0.2, 0.3], [0.1, 0.2, 0.3],
]

x_tick_vals = [2450000, 2451000, 2452000, 2453000, 2454000, 2455000]
y_tick_vals = [0, 2, 4, 6, 8, 10, 12]

# ---- flatten columns into points ----
xs, ys = [], []
for days, vels in [(early_day, early_vel), (cloud_day, cloud_vel), (peak_day, peak_vel),
                   (decline_day, decline_vel)]:
    assert len(days) == len(vels), (len(days), len(vels))
    for d, col in zip(days, vels):
        for v in col:
            xs.append(JD0 + d)
            ys.append(v)

fig = go.Figure()
fig.add_trace(go.Scatter(
    x=xs, y=ys, mode="markers",
    marker=dict(symbol="square", size=3, color="black", line=dict(width=0)),
    hoverinfo="skip", showlegend=False,
))

L, R, T, B = 80, 46, 12, 57
W, H = 650, 483
pw, ph = W - L - R, H - T - B


def px_x(p):
    return (p - L) / pw


def px_y(p):
    return (H - B - p) / ph


axis_common = dict(
    showline=True, linecolor="#4d4d4d", linewidth=1.5, mirror="allticks",
    ticks="inside", ticklen=8, tickwidth=1.3, tickcolor="#4d4d4d",
    showgrid=False, zeroline=False, layer="above traces", automargin=False,
    tickfont=dict(family="Liberation Sans, Arial, sans-serif", size=20, color="#444"),
)

fig.update_layout(
    width=W, height=H,
    margin=dict(l=L, r=R, t=T, b=B, autoexpand=False),
    paper_bgcolor="white", plot_bgcolor="white",
    xaxis=dict(
        range=[2450000, 2455000], tickvals=x_tick_vals, tickformat="d", ticklabelstandoff=3,
        minor=dict(ticks="inside", ticklen=4, dtick=100, tick0=2450000, tickcolor="#4d4d4d", tickwidth=1),
        title=dict(text="Julian day", standoff=8,
                   font=dict(family="Liberation Sans, Arial, sans-serif", size=18, color="#555")),
        **axis_common,
    ),
    yaxis=dict(
        range=[-1, 13], tickvals=y_tick_vals,
        minor=dict(ticks="inside", ticklen=4, dtick=0.5, tick0=0, tickcolor="#4d4d4d", tickwidth=1),
        title=dict(text="Simulated velocity (m/s)", standoff=14,
                   font=dict(family="Liberation Sans, Arial, sans-serif", size=18, color="#555")),
        **axis_common,
    ),
    shapes=[
        dict(type="rect", xref="paper", yref="paper", layer="below",
             x0=px_x(0), x1=px_x(16), y0=px_y(463), y1=px_y(0),
             fillcolor="#e6e6e6", line=dict(width=0)),
        dict(type="rect", xref="paper", yref="paper", layer="below",
             x0=px_x(645), x1=px_x(651), y0=px_y(484), y1=px_y(0),
             fillcolor="#cfcfcf", line=dict(width=0)),
    ],
    annotations=[
        dict(text="Simulation", xref="paper", yref="paper", x=px_x(442), y=px_y(50),
             xanchor="left", yanchor="middle", showarrow=False,
             font=dict(family="DejaVu Sans, Verdana, sans-serif", size=37, color="#cc0000")),
        dict(text="(scaled)", xref="paper", yref="paper", x=px_x(442), y=px_y(95),
             xanchor="left", yanchor="middle", showarrow=False,
             font=dict(family="DejaVu Sans, Verdana, sans-serif", size=37, color="#cc0000")),
    ],
)

fig.write_html("out.html")
